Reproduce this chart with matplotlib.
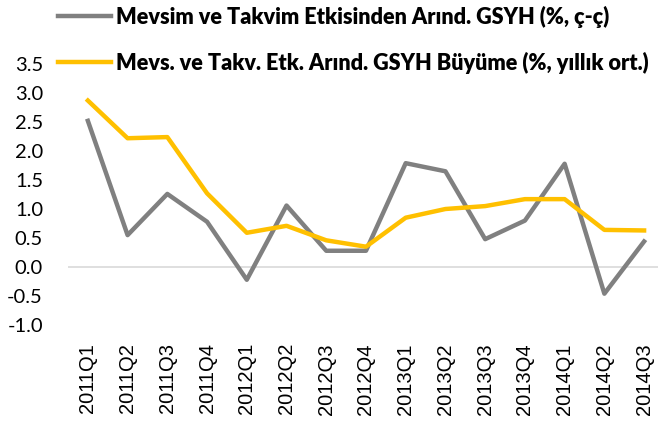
import matplotlib
matplotlib.use('Agg')
import matplotlib.pyplot as plt
import numpy as np

# Veriler
quarters = ['2011Q1', '2011Q2', '2011Q3', '2011Q4',
            '2012Q1', '2012Q2', '2012Q3', '2012Q4',
            '2013Q1', '2013Q2', '2013Q3', '2013Q4',
            '2014Q1', '2014Q2', '2014Q3']
gsyh_qoq = [2.52, 0.55, 1.26, 0.78, -0.22, 1.06, 0.28, 0.28,
            1.79, 1.65, 0.48, 0.80, 1.78, -0.46, 0.44]
gsyh_yoy_avg = [2.87, 2.22, 2.24, 1.27, 0.59, 0.71, 0.46, 0.35,
                0.85, 1.00, 1.05, 1.17, 1.17, 0.64, 0.63]
yticks = [-1.0, -0.5, 0.0, 0.5, 1.0, 1.5, 2.0, 2.5, 3.0, 3.5]

label_qoq = 'Mevsim ve Takvim Etkisinden Arınd. GSYH (%, ç-ç)'
label_yoy = 'Mevs. ve Takv. Etk. Arınd. GSYH Büyüme (%, yıllık ort.)'

fig = plt.figure(figsize=(6.58, 4.23), dpi=100)
ax = fig.add_axes([68 / 658, 1 - 325 / 423, 1 - 68 / 658, (325 - 64) / 423])

x = np.arange(len(quarters))
ax.axhline(0, color='#D9D9D9', linewidth=1.2, zorder=1)
l1, = ax.plot(x, gsyh_qoq, color='#808080', linewidth=3.2, label=label_qoq, zorder=2)
l2, = ax.plot(x, gsyh_yoy_avg, color='#FFC000', linewidth=3.2, label=label_yoy, zorder=3)

ax.set_xlim(-0.5, 14.35)
ax.set_ylim(-1.0, 3.5)
ax.set_yticks(yticks)
ax.set_yticklabels([f'{v:.1f}' for v in yticks], fontfamily='Lato', fontsize=14.5)
ax.set_xticks(x)
ax.set_xticklabels(quarters, rotation=90, fontfamily='Liberation Sans', fontsize=14.5)
ax.tick_params(axis='y', length=0, pad=18)
ax.tick_params(axis='x', length=0, pad=13)
for s in ax.spines.values():
    s.set_visible(False)

leg = fig.legend(handles=[l1, l2], loc='upper left', bbox_to_anchor=(58 / 658, 1 - 6 / 423),
                 frameon=False, prop={'family': 'Lato', 'weight': 'heavy', 'size': 15.6},
                 handlelength=2.45, handletextpad=0.25, labelspacing=1.08,
                 borderaxespad=0, borderpad=0)

fig.savefig('out.png', dpi=100)
